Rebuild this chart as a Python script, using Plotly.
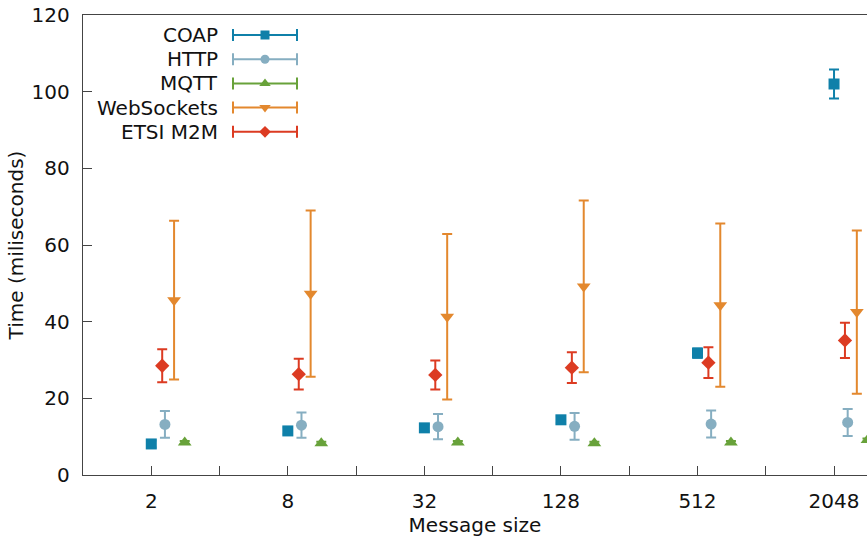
import plotly.graph_objects as go

# ---------------- data ----------------
categories = ["2", "8", "32", "128", "512", "2048"]

coap_mean = [8.1, 11.5, 12.3, 14.4, 31.8, 102.0]
coap_err = [0.9, 0.9, 0.9, 0.9, 1.2, 3.8]

http_mean = [13.2, 13.0, 12.6, 12.7, 13.3, 13.7]
http_err = [3.5, 3.3, 3.3, 3.5, 3.5, 3.5]

mqtt_mean = [8.5, 8.3, 8.5, 8.3, 8.5, 9.1]
mqtt_err = [0.4, 0.4, 0.4, 0.4, 0.4, 0.4]

ws_mean = [45.6, 47.3, 41.3, 49.2, 44.3, 42.5]
ws_err = [20.7, 21.7, 21.6, 22.4, 21.3, 21.3]

etsi_mean = [28.5, 26.3, 26.1, 28.0, 29.3, 35.1]
etsi_err = [4.3, 4.0, 3.8, 4.0, 4.0, 4.6]

series_names = ["COAP", "HTTP", "MQTT", "WebSockets", "ETSI M2M"]

y_ticks = [0, 20, 40, 60, 80, 100, 120]

# ---------------- style ----------------
colors = {
    "COAP": "#0f80a9",
    "HTTP": "#86aec1",
    "MQTT": "#68a23a",
    "WebSockets": "#e3882e",
    "ETSI M2M": "#dc3b22",
}
symbols = {
    "COAP": "square",
    "HTTP": "circle",
    "MQTT": "triangle-up",
    "WebSockets": "triangle-down",
    "ETSI M2M": "diamond",
}
offsets = {"COAP": 0.0, "ETSI M2M": 0.08, "HTTP": 0.1, "WebSockets": 0.167, "MQTT": 0.245}
msize = {"COAP": 11, "HTTP": 11, "MQTT": 12, "WebSockets": 12, "ETSI M2M": 11}

series = {
    "COAP": (coap_mean, coap_err),
    "HTTP": (http_mean, http_err),
    "MQTT": (mqtt_mean, mqtt_err),
    "WebSockets": (ws_mean, ws_err),
    "ETSI M2M": (etsi_mean, etsi_err),
}

FONT = "DejaVu Sans"
W, H = 867, 538
L, T, B = 83, 15, 63
plot_right = W

fig = go.Figure()

idx = list(range(len(categories)))
for name in series_names:
    mean, err = series[name]
    fig.add_trace(go.Scatter(
        x=[i + offsets[name] for i in idx],
        y=mean,
        mode="markers",
        name=name,
        showlegend=False,
        marker=dict(symbol=symbols[name], size=msize[name], color=colors[name]),
        error_y=dict(type="data", array=err, visible=True, color=colors[name],
                     thickness=2, width=5),
    ))

# ---------------- gnuplot-style key (text then sample) ----------------
key_text_right = 220
key_line = (233, 297)
key_top = 35
key_step = 24.2
for k, name in enumerate(series_names):
    yk = key_top + k * key_step
    xc = (key_line[0] + key_line[1]) / 2
    half = (key_line[1] - key_line[0]) / 2
    fig.add_trace(go.Scatter(
        x=[xc], y=[yk], xaxis="x2", yaxis="y2", mode="markers",
        showlegend=False, hoverinfo="skip",
        marker=dict(symbol=symbols[name], size=msize[name] - 2, color=colors[name]),
        error_x=dict(type="constant", value=half, visible=True, color=colors[name],
                     thickness=2, width=6),
    ))
    fig.add_annotation(
        x=key_text_right, y=yk, xref="x2", yref="y2", text=name,
        showarrow=False, xanchor="right", yanchor="middle",
        font=dict(family=FONT, size=20, color="#111111"),
    )

fig.update_layout(
    width=W, height=H,
    margin=dict(l=L, r=0, t=T, b=B, autoexpand=False),
    paper_bgcolor="white", plot_bgcolor="white",
    font=dict(family=FONT, size=20, color="#111111"),
    showlegend=False,
    xaxis=dict(
        range=[-0.5, -0.5 + (plot_right - L) / 136.55],
        tickmode="array",
        tickvals=[i / 2 for i in range(0, 12)],
        ticktext=[categories[i // 2] if i % 2 == 0 else "" for i in range(0, 12)],
        ticks="inside", ticklen=9, tickcolor="#444444", tickwidth=1.2,
        showline=True, linecolor="#444444", linewidth=1.4, mirror=True,
        showgrid=False, zeroline=False, automargin=False,
        ticklabelstandoff=8,
        title=dict(text="Message size", standoff=0, font=dict(family=FONT, size=20)),
        tickfont=dict(family=FONT, size=20),
    ),
    yaxis=dict(
        range=[0, 120],
        tickvals=y_ticks,
        ticks="inside", ticklen=9, tickcolor="#444444", tickwidth=1.2,
        showline=True, linecolor="#444444", linewidth=1.4,
        showgrid=False, zeroline=False, automargin=False,
        ticklabelstandoff=8,
        title=dict(text="Time (miliseconds)", standoff=2, font=dict(family=FONT, size=20)),
        tickfont=dict(family=FONT, size=20),
    ),
    xaxis2=dict(overlaying="x", range=[L, plot_right], visible=False, fixedrange=True),
    yaxis2=dict(overlaying="y", range=[H - B, T], visible=False, fixedrange=True),
)

fig.write_html("out.html", config={"displayModeBar": False},
               post_script="document.body.style.margin='0';")
